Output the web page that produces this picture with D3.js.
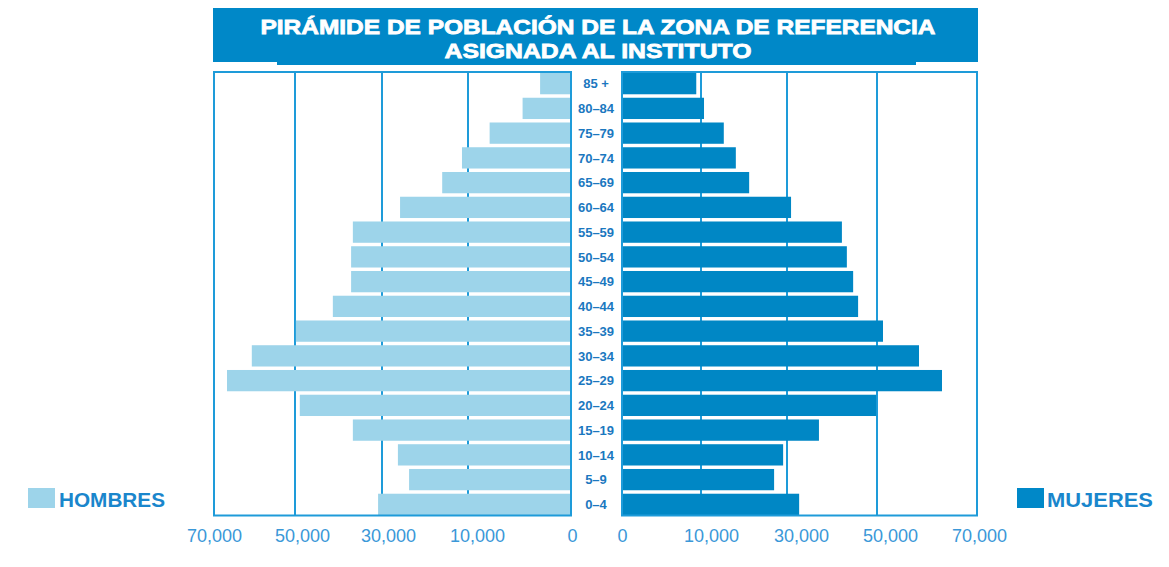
<!DOCTYPE html>
<html>
<head>
<meta charset="utf-8">
<script src="https://cdn.jsdelivr.net/npm/d3@7"></script>
<style>
  html, body { margin: 0; padding: 0; background: #ffffff; }
  svg { display: block; }
</style>
</head>
<body>
<svg id="chart" width="1169" height="567"></svg>
<script>
// ---- Data ----
const titleLines = ["PIRÁMIDE DE POBLACIÓN DE LA ZONA DE REFERENCIA", "ASIGNADA AL INSTITUTO"];
const ageGroups = ["85 +", "80–84", "75–79", "70–74", "65–69", "60–64", "55–59", "50–54", "45–49",
                   "40–44", "35–39", "30–34", "25–29", "20–24", "15–19", "10–14", "5–9", "0–4"];
const hombres = [3000, 4700, 7900, 11400, 16000, 25800, 36700, 37100, 37100,
                 41300, 49800, 60800, 67000, 48900, 36700, 26300, 23700, 30900];
const mujeres = [9400, 10700, 15300, 18100, 21200, 30900, 42200, 43300, 44700,
                 45800, 51200, 58400, 63000, 49800, 37100, 29100, 27000, 32700];
const tickValues = [0, 10000, 30000, 50000, 70000];
const legendLabels = ["HOMBRES", "MUJERES"];

// ---- Layout / style ----
const C = {
  light: "#9dd4ea",
  dark: "#0087c5",
  title: "#0088c8",
  frame: "#1e9bd9",
  axisText: "#3b98d8",
  catText: "#1b78bf",
  legendText: "#1a86cc"
};

const svg = d3.select("#chart");
const yTop = 72.5, yBottom = 515.5;

// The original artwork spaces its gridlines unevenly; polylinear scales reproduce it.
const xL = d3.scaleLinear().domain(tickValues).range([571, 468, 382, 295, 215]);
const xR = d3.scaleLinear().domain(tickValues).range([622, 701, 787, 877, 977]);
const labelL = d3.scaleLinear().domain(tickValues).range([572, 477, 388, 302, 214]);
const labelR = d3.scaleLinear().domain(tickValues).range([622, 711, 801, 890, 979]);

const y = d3.scaleBand().domain(ageGroups).range([yTop, yBottom]).paddingInner(0.14).paddingOuter(0.02);

// ---- Title box ----
svg.append("rect").attr("x", 213).attr("y", 8).attr("width", 765).attr("height", 54).attr("fill", C.title);
svg.append("rect").attr("x", 277).attr("y", 61).attr("width", 639).attr("height", 4).attr("fill", C.title);

const titleWidths = [675, 307];
const titleBase = [33.5, 57.8];
titleLines.forEach((t, i) => {
  svg.append("text")
    .attr("x", 598).attr("y", titleBase[i])
    .attr("text-anchor", "middle")
    .attr("font-family", "'Liberation Sans Narrow', 'Liberation Sans', Arial, sans-serif")
    .attr("font-weight", "bold")
    .attr("font-size", 21)
    .attr("fill", "#ffffff")
    .attr("stroke", "#ffffff").attr("stroke-width", 0.8)
    .attr("textLength", titleWidths[i])
    .attr("lengthAdjust", "spacingAndGlyphs")
    .text(t);
});

// ---- Gridlines ----
const inner = tickValues.filter(v => v > 0 && v < 70000);
svg.append("g").selectAll("line").data(inner).join("line")
  .attr("x1", d => xL(d)).attr("x2", d => xL(d))
  .attr("y1", yTop).attr("y2", yBottom)
  .attr("stroke", C.frame).attr("stroke-width", 2);
svg.append("g").selectAll("line").data(inner).join("line")
  .attr("x1", d => xR(d)).attr("x2", d => xR(d))
  .attr("y1", yTop).attr("y2", yBottom)
  .attr("stroke", C.frame).attr("stroke-width", 2);

// ---- Bars ----
svg.append("g").selectAll("rect").data(ageGroups).join("rect")
  .attr("x", (d, i) => xL(hombres[i]))
  .attr("y", d => y(d))
  .attr("width", (d, i) => xL(0) - xL(hombres[i]))
  .attr("height", y.bandwidth())
  .attr("fill", C.light);

svg.append("g").selectAll("rect").data(ageGroups).join("rect")
  .attr("x", xR(0))
  .attr("y", d => y(d))
  .attr("width", (d, i) => xR(mujeres[i]) - xR(0))
  .attr("height", y.bandwidth())
  .attr("fill", C.dark);

// ---- Panel frames ----
svg.append("rect").attr("x", xL(70000) - 1).attr("y", yTop - 0.5)
  .attr("width", xL(0) - xL(70000) + 1).attr("height", yBottom - yTop + 0.5)
  .attr("fill", "none").attr("stroke", C.frame).attr("stroke-width", 2);
svg.append("rect").attr("x", xR(0)).attr("y", yTop - 0.5)
  .attr("width", xR(70000) - xR(0)).attr("height", yBottom - yTop + 0.5)
  .attr("fill", "none").attr("stroke", C.frame).attr("stroke-width", 2);

// ---- Category labels ----
svg.append("g").selectAll("text").data(ageGroups).join("text")
  .attr("x", 596)
  .attr("y", d => y(d) + y.bandwidth() / 2)
  .attr("dy", "0.36em")
  .attr("text-anchor", "middle")
  .attr("font-family", "'Liberation Sans', Arial, sans-serif")
  .attr("font-weight", "bold")
  .attr("font-size", 13)
  .attr("fill", C.catText)
  .text(d => d);

// ---- Axes ----
const fmt = d3.format(",");
function styleAxis(g) {
  g.select(".domain").remove();
  g.selectAll(".tick line").remove();
  g.selectAll(".tick text")
    .attr("font-family", "'Liberation Sans', Arial, sans-serif")
    .attr("font-size", 18)
    .attr("fill", C.axisText);
}
svg.append("g").attr("transform", "translate(0,529)")
  .call(d3.axisBottom(labelL).tickValues(tickValues).tickFormat(fmt).tickSize(0).tickPadding(0))
  .call(styleAxis);
svg.append("g").attr("transform", "translate(0,529)")
  .call(d3.axisBottom(labelR).tickValues(tickValues).tickFormat(fmt).tickSize(0).tickPadding(0))
  .call(styleAxis);

// ---- Legend ----
const legendPos = [{sx: 28, tx: 59, fill: C.light}, {sx: 1017, tx: 1047, fill: C.title}];
legendLabels.forEach((lab, i) => {
  const p = legendPos[i];
  svg.append("rect").attr("x", p.sx).attr("y", 488).attr("width", 27).attr("height", 20).attr("fill", p.fill);
  svg.append("text")
    .attr("x", p.tx).attr("y", 507)
    .attr("font-family", "'Liberation Sans', Arial, sans-serif")
    .attr("font-weight", "bold")
    .attr("font-size", 20)
    .attr("fill", C.legendText)
    .attr("textLength", 106)
    .attr("lengthAdjust", "spacingAndGlyphs")
    .text(lab);
});
</script>
</body>
</html>
